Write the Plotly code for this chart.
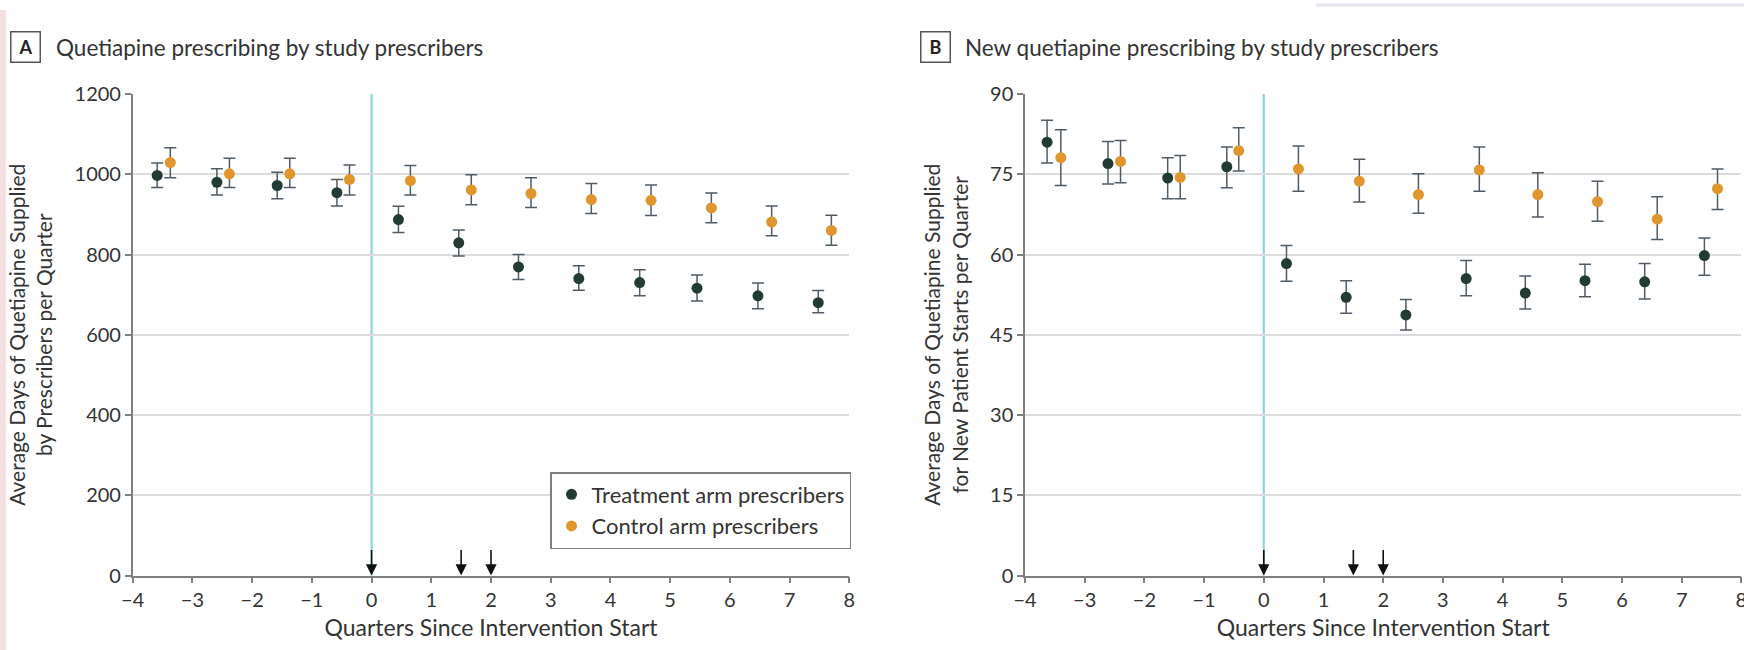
import plotly.graph_objects as go
import numpy as np

# ---- Data ----
# Panel A: Quetiapine prescribing by study prescribers
x_treat_A = [-3.59, -2.59, -1.58, -0.58, 0.45, 1.46, 2.46, 3.47, 4.49, 5.45, 6.47, 7.48]
y_treat_A = [997, 980, 972, 954, 887, 829, 769, 740, 730, 716, 697, 680]
hi_treat_A = [1028, 1014, 1005, 987, 920, 861, 800, 772, 762, 749, 729, 710]
lo_treat_A = [967, 948, 939, 921, 855, 796, 738, 711, 697, 684, 665, 655]

x_ctrl_A = [-3.37, -2.38, -1.37, -0.37, 0.65, 1.67, 2.67, 3.68, 4.68, 5.69, 6.70, 7.70]
y_ctrl_A = [1029, 1001, 1001, 987, 984, 961, 952, 937, 935, 916, 881, 860]
hi_ctrl_A = [1066, 1040, 1040, 1023, 1022, 999, 991, 977, 973, 953, 921, 898]
lo_ctrl_A = [991, 967, 967, 948, 948, 924, 917, 902, 897, 879, 847, 823]

# Panel B: New quetiapine prescribing by study prescribers
x_treat_B = [-3.63, -2.61, -1.61, -0.62, 0.38, 1.38, 2.38, 3.39, 4.38, 5.38, 6.38, 7.38]
y_treat_B = [81.0, 77.0, 74.3, 76.4, 58.3, 52.0, 48.7, 55.5, 52.8, 55.1, 54.9, 59.8]
hi_treat_B = [85.1, 81.1, 78.1, 80.1, 61.7, 55.1, 51.6, 58.9, 56.0, 58.2, 58.3, 63.1]
lo_treat_B = [77.1, 73.2, 70.4, 72.5, 55.0, 49.0, 45.9, 52.3, 49.8, 52.1, 51.7, 56.1]

x_ctrl_B = [-3.40, -2.40, -1.40, -0.42, 0.58, 1.60, 2.59, 3.61, 4.59, 5.59, 6.59, 7.60]
y_ctrl_B = [78.1, 77.4, 74.4, 79.4, 76.0, 73.7, 71.2, 75.8, 71.2, 69.9, 66.6, 72.3]
hi_ctrl_B = [83.3, 81.3, 78.5, 83.7, 80.3, 77.8, 75.1, 80.1, 75.3, 73.7, 70.8, 76.0]
lo_ctrl_B = [72.9, 73.4, 70.4, 75.6, 71.8, 69.8, 67.7, 71.8, 67.0, 66.2, 62.8, 68.4]

intervention_start = 0
letter_quarters = [0, 1.5, 2]

x_ticks = list(range(-4, 9))
y_ticks_A = [0, 200, 400, 600, 800, 1000, 1200]
y_ticks_B = [0, 15, 30, 45, 60, 75, 90]

names = ["Treatment arm prescribers", "Control arm prescribers"]
titles = ["Quetiapine prescribing by study prescribers",
          "New quetiapine prescribing by study prescribers"]
ytitles = ["Average Days of Quetiapine Supplied<br>by Prescribers per Quarter",
           "Average Days of Quetiapine Supplied<br>for New Patient Starts per Quarter"]
xtitle = "Quarters Since Intervention Start"

# ---- Styles ----
FONT = "Lato, 'Open Sans', sans-serif"
C_TREAT = "#223c35"
C_CTRL = "#e0952d"
C_ERR = "#4f5b66"
C_TEXT = "#333333"
C_AXIS = "#7f7f7f"
C_GRID = "#dcdcdc"
C_CYAN = "#7dd3de"

W, H = 1744, 650
def px_x(p): return p / W
def px_y(p): return (H - p) / H

fig = go.Figure()

def add_series(x, y, hi, lo, color, name, xa, ya, show):
    y = np.array(y); hi = np.array(hi); lo = np.array(lo)
    fig.add_trace(go.Scatter(
        x=x, y=y, mode="markers", name=name, showlegend=show,
        xaxis=xa, yaxis=ya,
        marker=dict(color=color, size=11, line=dict(width=0)),
        error_y=dict(type="data", symmetric=False, array=hi - y, arrayminus=y - lo,
                     color=C_ERR, thickness=1.5, width=6),
    ))

add_series(x_treat_A, y_treat_A, hi_treat_A, lo_treat_A, C_TREAT, names[0], "x", "y", True)
add_series(x_ctrl_A, y_ctrl_A, hi_ctrl_A, lo_ctrl_A, C_CTRL, names[1], "x", "y", True)
add_series(x_treat_B, y_treat_B, hi_treat_B, lo_treat_B, C_TREAT, names[0], "x2", "y2", False)
add_series(x_ctrl_B, y_ctrl_B, hi_ctrl_B, lo_ctrl_B, C_CTRL, names[1], "x2", "y2", False)

ydom = [px_y(575.5), px_y(94)]
xdomA = [px_x(132.7), px_x(849.3)]
xdomB = [px_x(1025), px_x(1741.4)]

axis_common = dict(showline=True, linecolor=C_AXIS, linewidth=1.5, mirror=False,
                   ticks="outside", ticklen=6, tickwidth=1.5, tickcolor=C_AXIS,
                   tickfont=dict(family=FONT, size=20, color=C_TEXT),
                   zeroline=False, automargin=False)

xcommon = dict(axis_common, range=[-4, 8], tickvals=x_ticks, showgrid=False,
               ticklabeloverflow="allow",
               title=dict(text=xtitle, font=dict(family=FONT, size=23, color=C_TEXT), standoff=10))

fig.update_layout(
    width=W, height=H,
    margin=dict(l=0, r=0, t=0, b=0, autoexpand=False),
    paper_bgcolor="white", plot_bgcolor="white",
    font=dict(family=FONT, color=C_TEXT),
    xaxis=dict(xcommon, domain=xdomA, anchor="y"),
    xaxis2=dict(xcommon, domain=xdomB, anchor="y2"),
    yaxis=dict(axis_common, domain=ydom, range=[0, 1200], tickvals=y_ticks_A,
               showgrid=True, gridcolor=C_GRID, gridwidth=1.5, anchor="x",
               title=dict(text=ytitles[0], font=dict(family=FONT, size=21, color=C_TEXT), standoff=16)),
    yaxis2=dict(axis_common, domain=ydom, range=[0, 90], tickvals=y_ticks_B,
                showgrid=True, gridcolor=C_GRID, gridwidth=1.5, anchor="x2",
                title=dict(text=ytitles[1], font=dict(family=FONT, size=21, color=C_TEXT), standoff=16)),
    legend=dict(x=px_x(851), xanchor="right", y=px_y(472), yanchor="top",
                bordercolor=C_AXIS, borderwidth=1.5, bgcolor="white",
                font=dict(family=FONT, size=22, color=C_TEXT),
                itemwidth=30, tracegroupgap=0),
    showlegend=True,
)

shapes = []
for xr, yr in (("x", "y"), ("x2", "y2")):
    shapes.append(dict(type="line", xref=xr, yref=yr + " domain", x0=intervention_start, x1=intervention_start,
                       y0=0, y1=1, line=dict(color=C_CYAN, width=2), layer="below"))
# decorative page edges
shapes.append(dict(type="rect", xref="paper", yref="paper", x0=0, x1=px_x(6), y0=0, y1=px_y(10),
                   fillcolor="#f4e0e0", line=dict(width=0), layer="below"))
shapes.append(dict(type="rect", xref="paper", yref="paper", x0=px_x(1316), x1=1, y0=px_y(6.5), y1=px_y(3.5),
                   fillcolor="#e6e8ef", line=dict(width=0), layer="below"))

annotations = []
for xr, yr in (("x", "y"), ("x2", "y2")):
    for q in letter_quarters:
        annotations.append(dict(x=q, y=0, xref=xr, yref=yr, ax=0, ay=-27, axref="pixel", ayref="pixel",
                                showarrow=True, arrowhead=2, arrowsize=1.4, arrowwidth=1.6,
                                arrowcolor="#111111", text=""))

for letter, bx, tx, title in (("A", 25.5, 54, titles[0]), ("B", 935.5, 963, titles[1])):
    annotations.append(dict(x=px_x(bx), y=px_y(47.5), xref="paper", yref="paper",
                            text="<b>%s</b>" % letter, showarrow=False, xanchor="center", yanchor="middle",
                            font=dict(family=FONT, size=18, color="#222222"),
                            width=24, height=25, borderpad=2, bordercolor="#555555", borderwidth=1.5))
    annotations.append(dict(x=px_x(tx), y=px_y(47.5), xref="paper", yref="paper",
                            text=title, showarrow=False, xanchor="left", yanchor="middle",
                            font=dict(family=FONT, size=22.5, color=C_TEXT)))

fig.update_layout(shapes=shapes, annotations=annotations)

fig.write_html("out.html", config={"displayModeBar": False},
               post_script="document.body.style.margin='0';document.body.style.overflow='hidden';")
